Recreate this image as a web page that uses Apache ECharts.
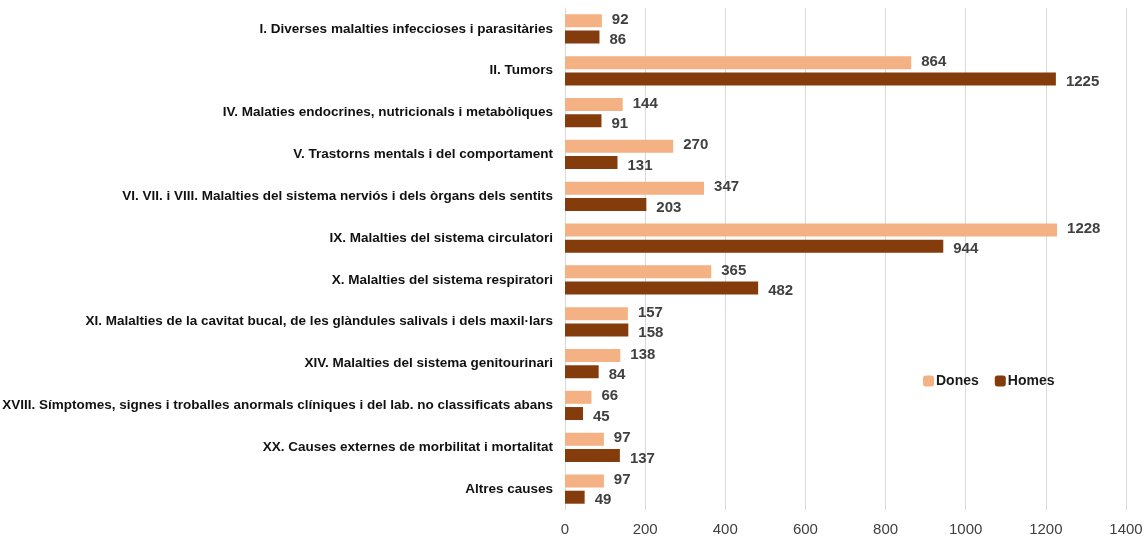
<!DOCTYPE html>
<html>
<head>
<meta charset="utf-8">
<script src="https://cdn.jsdelivr.net/npm/echarts@6/dist/echarts.min.js"></script>
<style>html,body{margin:0;padding:0;background:#fff}#c{width:1144px;height:537px}</style>
</head>
<body>
<div id="c"></div>
<script>
const categories = [
  "I. Diverses malalties infeccioses i parasitàries",
  "II. Tumors",
  "IV. Malaties endocrines, nutricionals i metabòliques",
  "V. Trastorns mentals i del comportament",
  "VI. VII. i VIII. Malalties del sistema nerviós i dels òrgans dels sentits",
  "IX. Malalties del sistema circulatori",
  "X. Malalties del sistema respiratori",
  "XI. Malalties de la cavitat bucal, de les glàndules salivals i dels maxil·lars",
  "XIV. Malalties del sistema genitourinari",
  "XVIII. Símptomes, signes i troballes anormals clíniques i del lab. no classificats abans",
  "XX. Causes externes de morbilitat i mortalitat",
  "Altres causes"
];
const dones = [92, 864, 144, 270, 347, 1228, 365, 157, 138, 66, 97, 97];
const homes = [86, 1225, 91, 131, 203, 944, 482, 158, 84, 45, 137, 49];
const xTicks = [0, 200, 400, 600, 800, 1000, 1200, 1400];

const FONT = "'Liberation Sans Narrow', 'Arial Narrow', 'Liberation Sans', sans-serif";
const chart = echarts.init(document.getElementById('c'));
chart.setOption({
  animation: false,
  textStyle: {fontFamily: FONT},
  grid: {left: 565, right: 18, top: 8, bottom: 27, containLabel: false, outerBoundsMode: 'none'},
  legend: {
    data: ['Dones', 'Homes'],
    left: 918, top: 369,
    itemWidth: 11, itemHeight: 11, itemGap: 16,
    icon: 'roundRect',
    textStyle: {fontFamily: FONT, fontSize: 14, color: '#1a1a1a', fontWeight: 'bold', padding: [0,0,0,-3]}
  },
  xAxis: {
    type: 'value', min: xTicks[0], max: xTicks[xTicks.length-1], interval: 200,
    axisLine: {show: false}, axisTick: {show: false},
    splitLine: {lineStyle: {color: '#d9d9d9', width: 1}},
    axisLabel: {fontFamily: FONT, fontSize: 15, color: '#404040', margin: 12, formatter: v => String(v)}
  },
  yAxis: {
    type: 'category', data: categories, inverse: true,
    axisLine: {show: true, lineStyle: {color: '#d9d9d9'}},
    axisTick: {show: false},
    axisLabel: {fontFamily: FONT, fontSize: 13.5, color: '#111', margin: 12, fontWeight: 'bold'}
  },
  series: [
    {
      name: 'Dones', type: 'bar', data: dones, barWidth: 13, barGap: '25%',
      itemStyle: {color: '#F4B183'},
      label: {show: true, position: 'right', distance: 10, fontFamily: FONT, fontSize: 15, color: '#404040', fontWeight: 'bold', offset: [0, -1]}
    },
    {
      name: 'Homes', type: 'bar', data: homes, barWidth: 13,
      itemStyle: {color: '#843C0C'},
      label: {show: true, position: 'right', distance: 10, fontFamily: FONT, fontSize: 15, color: '#404040', fontWeight: 'bold', offset: [0, 3]}
    }
  ]
});
</script>
</body>
</html>
